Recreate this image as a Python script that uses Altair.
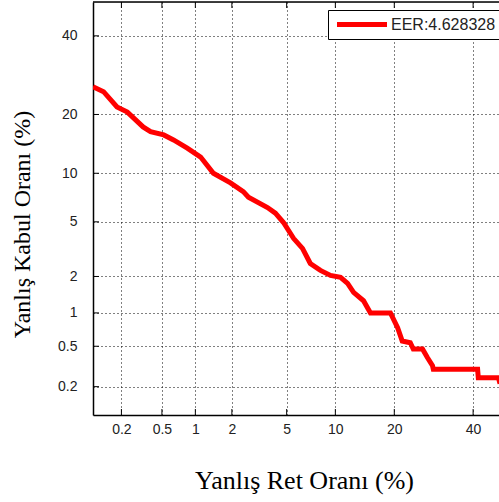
import altair as alt
import pandas as pd
from statistics import NormalDist

# DET curve points: false rejection % (x), false acceptance % (y)
frr = [0.1, 0.13, 0.18, 0.23, 0.265, 0.33, 0.39, 0.52, 0.64, 0.85, 1.11, 1.42, 1.95,
       2.45, 2.68, 3.69, 4.19, 4.76, 5.55, 6.34, 7.1, 8.18, 9.38, 10.7, 11.7, 12.6,
       14.2, 15.4, 19.2, 20.7, 21.7, 23.5, 24.2, 26.4, 27.6, 28.9, 29.1, 41.3, 41.5,
       47.4, 47.9]
far = [26.3, 25.1, 21.6, 20.5, 19.3, 17.5, 16.6, 16.0, 15.1, 13.7, 12.3, 10.0, 8.8,
       7.8, 7.2, 6.2, 5.7, 4.95, 3.85, 3.26, 2.52, 2.23, 2.04, 1.97, 1.76, 1.49,
       1.27, 1.0, 1.0, 0.74, 0.56, 0.54, 0.47, 0.47, 0.39, 0.325, 0.30, 0.30, 0.247,
       0.247, 0.215]
legend_label = "EER:4.628328"
tick_values = [0.2, 0.5, 1, 2, 5, 10, 20, 40]
tick_labels = ["0.2", "0.5", "1", "2", "5", "10", "20", "40"]
x_range_pct = [0.1, 47.6]
y_range_pct = [0.1, 50]

nd = NormalDist()
def z(p):
    return nd.inv_cdf(p / 100.0)

W, H = 406, 413

df = pd.DataFrame({"zx": [z(v) for v in frr], "zy": [z(v) for v in far]})
tz = [z(v) for v in tick_values]
ticks_df = pd.DataFrame({"tz": tz})

label_expr = "''"
for t, lab in zip(reversed(tz), reversed(tick_labels)):
    label_expr = f"abs(datum.value - ({t:.9f})) < 1e-6 ? '{lab}' : ({label_expr})"

xdom = [z(x_range_pct[0]), z(x_range_pct[1])]
ydom = [z(y_range_pct[0]), z(y_range_pct[1])]

x_axis = alt.Axis(values=tz, labelExpr=label_expr, title="Yanlış Ret Oranı (%)",
                  grid=True, gridColor="black", gridDash=[1, 3], gridOpacity=1,
                  gridWidth=1, ticks=False, tickSize=0, labelPadding=7,
                  domainColor="black", domainWidth=1.5,
                  labelFont="Liberation Sans", labelFontSize=14, labelColor="#222",
                  titleFont="Liberation Serif", titleFontSize=26, titleFontWeight="normal",
                  titleColor="black", titleBaseline="alphabetic", titleAlign="center",
                  titleX=211, titleY=73)
y_axis = alt.Axis(values=tz, labelExpr=label_expr, title="Yanlış Kabul Oranı (%)",
                  grid=True, gridColor="black", gridDash=[1, 3], gridOpacity=1,
                  gridWidth=1, ticks=False, tickSize=0, labelPadding=16,
                  domainColor="black", domainWidth=1.5,
                  labelFont="Liberation Sans", labelFontSize=14, labelColor="#222",
                  titleFont="Liberation Serif", titleFontSize=24, titleFontWeight="normal",
                  titleColor="black", titleBaseline="alphabetic", titleAlign="center",
                  titleAngle=270, titleX=-64, titleY=222)

xs = alt.Scale(domain=xdom, zero=False, nice=False)
ys = alt.Scale(domain=ydom, zero=False, nice=False)

line = alt.Chart(df).mark_line(strokeWidth=5, clip=True, color="#ff0000").encode(
    x=alt.X("zx:Q", scale=xs, axis=x_axis),
    y=alt.Y("zy:Q", scale=ys, axis=y_axis),
)

base_t = alt.Chart(ticks_df)
xt_bottom = base_t.mark_rule(color="black", strokeWidth=1).encode(
    x=alt.X("tz:Q", scale=xs, axis=x_axis), y=alt.value(H), y2=alt.value(H - 6))
xt_top = base_t.mark_rule(color="black", strokeWidth=1).encode(
    x=alt.X("tz:Q", scale=xs, axis=x_axis), y=alt.value(0), y2=alt.value(6))
yt_left = base_t.mark_rule(color="black", strokeWidth=1).encode(
    y=alt.Y("tz:Q", scale=ys, axis=y_axis), x=alt.value(0), x2=alt.value(6))

one = pd.DataFrame({"label": [legend_label]})
top_border = alt.Chart(one).mark_rule(color="black", strokeWidth=1.5).encode(
    x=alt.value(0), x2=alt.value(W), y=alt.value(0))

# legend box
leg_box = alt.Chart(one).mark_rect(fill="white", stroke="black", strokeWidth=1).encode(
    x=alt.value(235.5), x2=alt.value(W + 10), y=alt.value(8.5), y2=alt.value(37.5))
leg_line = alt.Chart(one).mark_rule(color="#ff0000", strokeWidth=5).encode(
    x=alt.value(244), x2=alt.value(294), y=alt.value(22.5))
leg_text = alt.Chart(one).mark_text(align="left", baseline="middle", font="Liberation Sans",
                                    fontSize=16, color="#222").encode(
    x=alt.value(298), y=alt.value(23), text="label:N")

chart = alt.layer(xt_bottom, xt_top, yt_left, top_border, line,
                  leg_box, leg_line, leg_text).properties(
    width=W, height=H,
    autosize=alt.AutoSizeParams(type="none"),
    padding={"left": 93, "top": 2, "right": 0, "bottom": 87},
).configure_view(stroke=None).configure(background="white")

chart.save("out.html", embed_options={"renderer": "svg", "actions": False})
